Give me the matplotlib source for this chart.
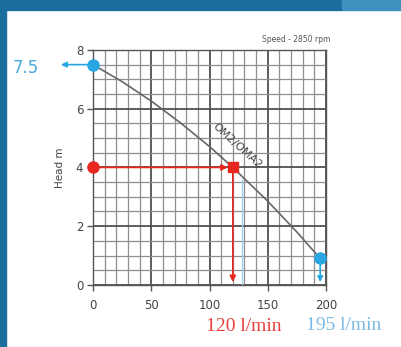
import matplotlib
matplotlib.use("Agg")
import matplotlib.pyplot as plt
from matplotlib.patches import Rectangle

# pump curve
flow = [0, 25, 50, 75, 100, 120, 150, 175, 195]
head = [7.5, 6.92, 6.26, 5.52, 4.71, 4.0, 2.85, 1.8, 0.9]

duty_flow, duty_head = 120, 4.0
max_flow, max_head = 195, 0.9
shut_head = 7.5

x_ticks = [0, 50, 100, 150, 200]
y_ticks = [0, 2, 4, 6, 8]

red = "#e8281e"
blue = "#27a6e3"

fig = plt.figure(figsize=(4.01, 3.47), dpi=100)
fig.patch.set_facecolor("white")

# blue slide frame
fig.patches.append(Rectangle((0, 0.971), 0.853, 0.029, transform=fig.transFigure,
                             color="#1b6d9e", zorder=0))
fig.patches.append(Rectangle((0.853, 0.971), 0.147, 0.029, transform=fig.transFigure,
                             color="#3f8fbf", zorder=0))
fig.patches.append(Rectangle((0, 0), 0.015, 1, transform=fig.transFigure,
                             color="#1b6d9e", zorder=0))

ax = fig.add_axes([0.232, 0.179, 0.581, 0.677])
ax.set_xlim(0, 200)
ax.set_ylim(0, 8)

ax.set_xticks(x_ticks)
ax.set_yticks(y_ticks)
ax.set_xticks(range(0, 201, 10), minor=True)
ax.set_yticks([i * 0.5 for i in range(17)], minor=True)
ax.grid(which="minor", color="#8f8f8f", lw=0.9)
ax.grid(which="major", color="#505050", lw=1.3)
ax.tick_params(which="minor", length=0)
ax.tick_params(which="major", length=4, width=1, color="#555555",
               labelsize=8.5, labelcolor="#444444", pad=3)
ax.tick_params(axis="x", pad=6)
for s in ax.spines.values():
    s.set_color("#555555")
    s.set_linewidth(1.0)
ax.set_axisbelow(True)

ax.set_ylabel("Head m", fontsize=7.5, color="#444444", labelpad=8)

ax.plot(flow, head, color="#666666", lw=1.2, zorder=3)
ax.text(124, 4.75, "OM2/OMA2", rotation=-42, fontsize=8, color="#444444",
        ha="center", va="center", zorder=4)

fig.text(0.825, 0.885, "Speed - 2850 rpm", fontsize=5.5, color="#555555",
         ha="right", va="center")

# faint light blue guide
ax.plot([128, 128], [0, 3.6], color="#9fd3f0", lw=1.0, zorder=3)

# red duty point
ax.annotate("", xy=(duty_flow - 2, duty_head), xytext=(0, duty_head),
            arrowprops=dict(arrowstyle="-|>", color=red, lw=1.2, mutation_scale=9),
            zorder=5)
ax.annotate("", xy=(duty_flow, 0), xytext=(duty_flow, duty_head),
            arrowprops=dict(arrowstyle="-|>", color=red, lw=1.2, mutation_scale=9),
            zorder=5, annotation_clip=False)
ax.plot([0], [duty_head], "o", color=red, ms=8, clip_on=False, zorder=6)
ax.plot([duty_flow], [duty_head], "s", color=red, ms=7, clip_on=False, zorder=6)

# blue points
ax.annotate("", xy=(-30, shut_head), xytext=(0, shut_head),
            arrowprops=dict(arrowstyle="-|>", color=blue, lw=1.2, mutation_scale=8),
            zorder=5, annotation_clip=False)
ax.plot([0], [shut_head], "o", color=blue, ms=8, clip_on=False, zorder=6)
ax.annotate("", xy=(max_flow, 0), xytext=(max_flow, max_head),
            arrowprops=dict(arrowstyle="-|>", color=blue, lw=1.2, mutation_scale=8),
            zorder=5, annotation_clip=False)
ax.plot([max_flow], [max_head], "o", color=blue, ms=8, clip_on=False, zorder=6)

fig.text(0.065, 0.805, "7.5", fontsize=12, color="#4aa8dc", ha="center", va="center")
fig.text(0.608, 0.058, "120 l/min", fontsize=14, color="#e8403a",
         family="Liberation Serif", ha="center", va="center")
fig.text(0.858, 0.061, "195 l/min", fontsize=14, color="#7dbbe4",
         family="Liberation Serif", ha="center", va="center")

fig.savefig("out.png", dpi=100)
